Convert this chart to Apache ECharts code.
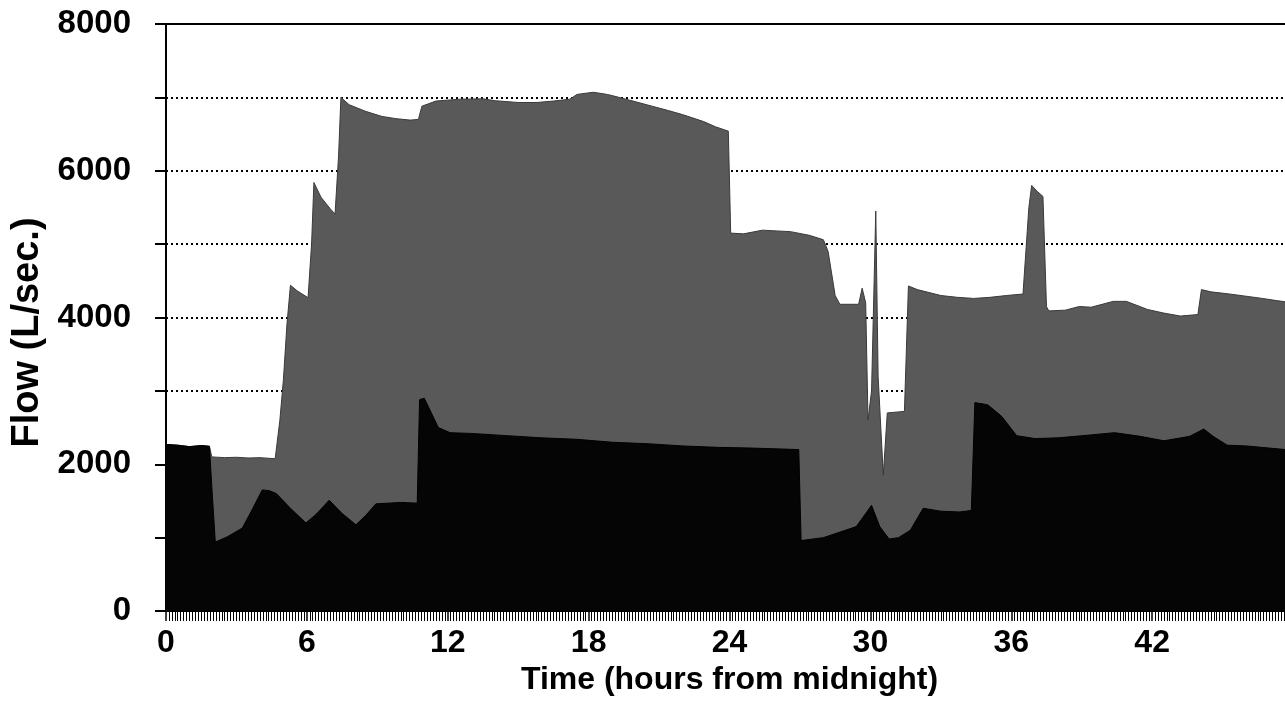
<!DOCTYPE html>
<html>
<head>
<meta charset="utf-8">
<script src="https://cdn.jsdelivr.net/npm/echarts@6/dist/echarts.min.js"></script>
<style>
  html, body { margin: 0; padding: 0; background: #fff; }
  #chart { width: 1285px; height: 707px; }
</style>
</head>
<body>
<div id="chart"></div>
<script>
// Total flow (grey halftone area): time in hours, flow in L/sec.
const totalHours = [0.0, 0.5, 1.0, 1.5, 1.85, 1.95, 2.5, 3.0, 3.5, 4.0, 4.65, 4.85, 5.0, 5.15, 5.3, 5.6, 6.05, 6.2, 6.3, 6.6, 7.0, 7.2, 7.35, 7.45, 7.8, 8.5, 9.2, 9.8, 10.4, 10.75, 10.9, 11.5, 12.5, 13.5, 14.0, 15.0, 15.8, 16.5, 17.2, 17.5, 18.2, 18.8, 19.3, 20.0, 20.7, 21.4, 22.0, 22.9, 23.4, 23.95, 24.05, 24.6, 25.4, 26.0, 26.6, 27.4, 28.0, 28.2, 28.5, 28.7, 29.5, 29.65, 29.8, 29.9, 30.05, 30.23, 30.33, 30.55, 30.72, 31.45, 31.62, 32.0, 32.5, 33.0, 33.7, 34.4, 35.1, 35.8, 36.5, 36.75, 36.87, 37.1, 37.35, 37.5, 37.6, 38.3, 38.9, 39.4, 40.35, 40.9, 41.8, 42.5, 43.2, 43.95, 44.1, 44.5, 45.3, 46.0, 46.7, 47.3, 48.0];
const totalFlow  = [2270, 2260, 2240, 2255, 2245, 2100, 2090, 2095, 2085, 2090, 2075, 2600, 3150, 3900, 4440, 4360, 4270, 5000, 5840, 5640, 5480, 5410, 6200, 7000, 6900, 6810, 6740, 6710, 6690, 6700, 6880, 6950, 6975, 6980, 6955, 6930, 6930, 6950, 6975, 7040, 7070, 7040, 7000, 6940, 6880, 6820, 6765, 6670, 6600, 6540, 5150, 5140, 5190, 5180, 5170, 5120, 5060, 4900, 4300, 4180, 4180, 4400, 4200, 2600, 3000, 5450, 3200, 1850, 2700, 2720, 4430, 4380, 4340, 4300, 4275, 4260, 4275, 4300, 4320, 5500, 5800, 5720, 5650, 4150, 4090, 4100, 4150, 4140, 4220, 4220, 4110, 4060, 4020, 4040, 4380, 4350, 4320, 4290, 4260, 4230, 4200];

// Lower flow component (black area)
const baseHours = [0.0, 0.5, 1.0, 1.5, 1.85, 1.95, 2.1, 2.6, 3.25, 3.7, 4.1, 4.4, 4.7, 5.3, 5.96, 6.4, 6.95, 7.5, 8.09, 8.5, 8.94, 9.5, 10.0, 10.7, 10.8, 11.0, 11.3, 11.6, 12.1, 13.0, 14.5, 16.0, 17.5, 19.0, 20.5, 22.0, 23.5, 25.0, 26.95, 27.05, 28.0, 29.4, 30.05, 30.4, 30.8, 31.2, 31.7, 32.25, 33.0, 33.8, 34.3, 34.45, 35.0, 35.6, 36.23, 37.0, 38.0, 39.4, 40.4, 41.5, 42.5, 43.6, 44.2, 44.6, 45.2, 46.0, 47.0, 48.0];
const baseFlow  = [2270, 2260, 2240, 2255, 2245, 1700, 940, 1010, 1130, 1400, 1650, 1640, 1600, 1400, 1200, 1320, 1510, 1330, 1175, 1300, 1460, 1470, 1480, 1470, 2880, 2900, 2700, 2500, 2430, 2420, 2390, 2360, 2340, 2300, 2280, 2250, 2230, 2220, 2200, 960, 1000, 1150, 1440, 1150, 980, 1000, 1100, 1400, 1360, 1350, 1370, 2840, 2810, 2650, 2390, 2350, 2360, 2400, 2430, 2380, 2320, 2380, 2480, 2380, 2260, 2250, 2220, 2190];

const xTickLabels = [0, 6, 12, 18, 24, 30, 36, 42];
const xMax = 48;
const yLabelValues = [0, 2000, 4000, 6000, 8000];

const totalData = totalHours.map((h, i) => [h, totalFlow[i]]);
const baseData = baseHours.map((h, i) => [h, baseFlow[i]]);

const chart = echarts.init(document.getElementById('chart'), null, { renderer: 'canvas' });
const font = '"Liberation Sans", Arial, Helvetica, sans-serif';

chart.setOption({
  animation: false,
  backgroundColor: '#ffffff',
  grid: {
    left: 166, right: -8, top: 24, bottom: 96,
    outerBoundsMode: 'none',
    containLabel: false,
    show: true, borderColor: '#000', borderWidth: 2, backgroundColor: 'transparent'
  },
  xAxis: {
    type: 'value',
    min: 0, max: xMax, interval: 6,
    name: 'Time (hours from midnight)',
    nameLocation: 'middle',
    nameGap: 50,
    nameTextStyle: { fontFamily: font, fontSize: 32, fontWeight: 'bold', color: '#000' },
    axisLine: { show: true, onZero: false, lineStyle: { color: '#000', width: 2 } },
    axisTick: { show: true, length: 10, lineStyle: { color: '#000', width: 1.5 } },
    minorTick: { show: true, splitNumber: 48, length: 10, lineStyle: { color: '#000', width: 1 } },
    axisLabel: {
      fontFamily: font, fontSize: 32, fontWeight: 'bold', color: '#000', margin: 16,
      showMaxLabel: false,
      formatter: v => (xTickLabels.indexOf(v) >= 0 ? String(v) : '')
    },
    splitLine: { show: false },
    minorSplitLine: { show: false }
  },
  yAxis: {
    type: 'value',
    min: 0, max: 8000, interval: 1000,
    name: 'Flow (L/sec.)',
    nameLocation: 'middle',
    nameGap: 112,
    nameTextStyle: { fontFamily: font, fontSize: 38, fontWeight: 'bold', color: '#000', padding: [0, 30, 0, 0] },
    axisLine: { show: true, onZero: false, lineStyle: { color: '#000', width: 2 } },
    axisTick: { show: true, length: 11, lineStyle: { color: '#000', width: 2 } },
    axisLabel: {
      fontFamily: font, fontSize: 33, fontWeight: 'bold', color: '#000', margin: 35,
      formatter: v => (yLabelValues.indexOf(v) >= 0 ? String(v) : '')
    },
    splitLine: { show: true, lineStyle: { color: '#000', width: 2.2, type: [2, 3] } }
  },
  series: [
    {
      name: 'Total flow',
      type: 'line',
      data: totalData,
      showSymbol: false,
      z: 2,
      lineStyle: { color: '#3a3a3a', width: 1 },
      areaStyle: { color: '#595959', opacity: 1, origin: 'start' }
    },
    {
      name: 'Base flow',
      type: 'line',
      data: baseData,
      showSymbol: false,
      z: 3,
      lineStyle: { color: '#000', width: 1 },
      areaStyle: { color: '#050505', opacity: 1, origin: 'start' }
    }
  ]
});
</script>
</body>
</html>
